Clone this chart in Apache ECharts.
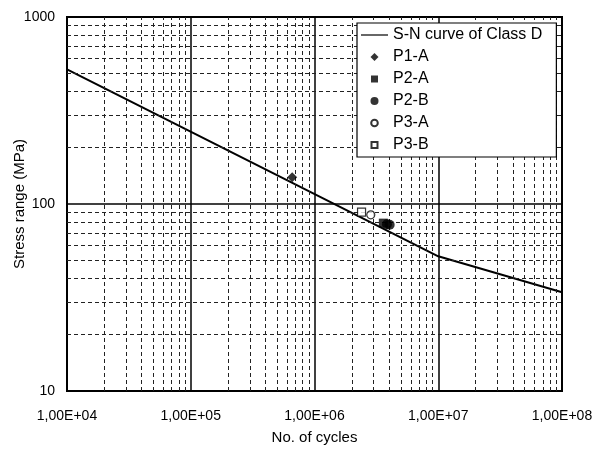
<!DOCTYPE html>
<html>
<head>
<meta charset="utf-8">
<script src="https://cdn.jsdelivr.net/npm/echarts@6/dist/echarts.min.js"></script>
<style>html,body{margin:0;padding:0;background:#fff}#c{width:597px;height:450px}</style>
</head>
<body>
<div id="c"></div>
<script>
// S-N curve of Class D (log-log polyline)
const curveCycles = [1e4, 1e7, 1e8];
const curveStress = [525, 52.5, 33.7];
// test results
const p1a = [[6.6e5, 139]];
const p2a = [[3.6e6, 79]];
const p2b = [[3.85e6, 78], [4.05e6, 77.5]];
const p3a = [[2.85e6, 87.5]];
const p3b = [[2.4e6, 90.5]];
// axis labels and grid positions
const xTickLabels = ['1,00E+04', '1,00E+05', '1,00E+06', '1,00E+07', '1,00E+08'];
const yTickLabels = ['10', '100', '1000'];
const xDecades = [1e4, 1e5, 1e6, 1e7];
const yDecades = [10, 100];
const minorMult = [2, 3, 4, 5, 6, 7, 8, 9];

const FONT = 'Liberation Sans';
const minorLines = [];
xDecades.forEach(d => minorMult.forEach(m => minorLines.push({ xAxis: d * m })));
yDecades.forEach(d => minorMult.forEach(m => minorLines.push({ yAxis: d * m })));

// legend icons: a 27x8 box with the glyph centred (keeps aspect in the legend)
const BOX = 'M0,0M27,8';
const icons = {
  line: 'path://' + BOX + 'M0,3.4L27,3.4L27,4.6L0,4.6Z',
  diamond: 'path://' + BOX + 'M13.5,0L17.5,4L13.5,8L9.5,4Z',
  square: 'path://' + BOX + 'M10,0.5L17,0.5L17,7.5L10,7.5Z',
  circle: 'path://' + BOX + 'M17.5,4A4,4,0,1,1,9.5,4A4,4,0,1,1,17.5,4Z',
  osquare: 'path://' + BOX + 'M10.5,1L16.5,1L16.5,7L10.5,7Z',
  ocircle: 'path://' + BOX + 'M16.8,4A3.3,3.3,0,1,1,10.2,4A3.3,3.3,0,1,1,16.8,4Z'
};

const chart = echarts.init(document.getElementById('c'));
const mk = (name, symbol, size, data, fill) => ({
  name, type: 'scatter', data, symbol, symbolSize: size, z: 5,
  itemStyle: fill ? { color: '#000' } : { color: '#fff', borderColor: '#000', borderWidth: 1.2 }
});
chart.setOption({
  animation: false,
  grid: { left: 67, right: 35, top: 17, bottom: 59, outerBoundsMode: 'none', containLabel: false,
    show: true, borderColor: '#000', borderWidth: 2, backgroundColor: '#fff' },
  xAxis: {
    type: 'log', logBase: 10, min: 1e4, max: 1e8,
    name: 'No. of cycles', nameLocation: 'middle', nameGap: 39, nameMoveOverlap: false,
    nameTextStyle: { fontFamily: FONT, fontSize: 15, color: '#000' },
    axisLine: { lineStyle: { color: '#000', width: 2 } },
    axisTick: { show: false },
    axisLabel: { fontFamily: FONT, fontSize: 14, color: '#000', margin: 18,
      formatter: (v) => xTickLabels[Math.round(Math.log10(v)) - 4] },
    splitLine: { show: true, lineStyle: { color: '#000', width: 1.5 } }
  },
  yAxis: {
    type: 'log', logBase: 10, min: 10, max: 1000,
    name: 'Stress range (MPa)', nameLocation: 'middle', nameGap: 40, nameMoveOverlap: false,
    nameTextStyle: { fontFamily: FONT, fontSize: 15, color: '#000' },
    axisLine: { lineStyle: { color: '#000', width: 2 } },
    axisTick: { show: false },
    axisLabel: { fontFamily: FONT, fontSize: 14, color: '#000', margin: 12,
      formatter: (v) => yTickLabels[Math.round(Math.log10(v)) - 1] },
    splitLine: { show: true, lineStyle: { color: '#000', width: 1.5 } }
  },
  legend: {
    orient: 'vertical', left: 357, top: 23, z: 20, zlevel: 1,
    data: [
      { name: 'S-N curve of Class D', icon: icons.line },
      { name: 'P1-A', icon: icons.diamond },
      { name: 'P2-A', icon: icons.square },
      { name: 'P2-B', icon: icons.circle },
      { name: 'P3-A', icon: icons.ocircle },
      { name: 'P3-B', icon: icons.osquare }
    ],
    backgroundColor: '#fff', borderColor: '#000', borderWidth: 1.2,
    padding: [4, 14, 4, 3], itemGap: 6, itemWidth: 27, itemHeight: 8,
    textStyle: { fontFamily: FONT, fontSize: 16, color: '#000', lineHeight: 16 }
  },
  series: [
    {
      name: 'minor-grid', type: 'line', data: [], silent: true, z: 1,
      markLine: {
        silent: true, symbol: ['none', 'none'], label: { show: false },
        lineStyle: { color: '#222', width: 1, type: [4, 3] },
        data: minorLines, animation: false
      }
    },
    {
      name: 'S-N curve of Class D', type: 'line', z: 4,
      data: curveCycles.map((c, i) => [c, curveStress[i]]),
      symbol: 'none', lineStyle: { color: '#000', width: 2 }, itemStyle: { color: '#000' }
    },
    mk('P1-A', 'diamond', 10, p1a, true),
    mk('P2-A', 'rect', 9, p2a, true),
    mk('P2-B', 'circle', 10, p2b, true),
    mk('P3-A', 'circle', 8, p3a, false),
    mk('P3-B', 'rect', 8, p3b, false)
  ]
});
</script>
</body>
</html>
